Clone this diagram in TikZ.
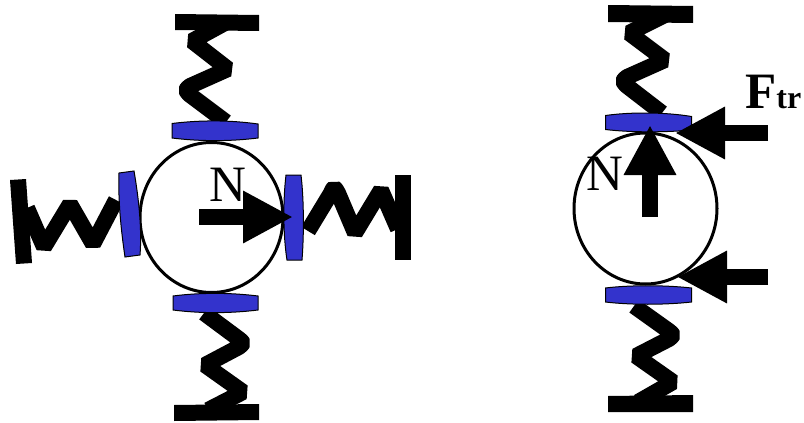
\documentclass[tikz,border=0pt]{standalone}
\usepackage{xcolor}
\usepackage{fontspec}
\setmainfont{Liberation Serif}
\usetikzlibrary{arrows.meta}
\definecolor{padblue}{RGB}{51, 51, 204}

\begin{document}
\begin{tikzpicture}[
    x=1pt,
    y=-1pt,
    spring/.style={black, line width=16pt, line join=bevel},
    wall/.style={fill=black},
    pad/.style={fill=padblue, draw=black, line width=1pt},
    roller/.style={draw=black, line width=3pt},
    force/.style={black, line width=16pt, -{Triangle[length=50pt, width=49pt]}},
    label/.style={font=\fontsize{51}{51}\selectfont, inner sep=0pt}
]
    \useasboundingbox (0,0) rectangle (804,423);

    % Coordinates
    \coordinate (c_left)  at (211.5,217.5);
    \coordinate (c_right) at (645.5,208.5);

    \coordinate (n_tail)  at (199,217);
    \coordinate (n_tip)   at (293,217);
    \coordinate (up_tail) at (650,217);
    \coordinate (up_tip)  at (650,125);
    \coordinate (f1_tail) at (768,133);
    \coordinate (f1_tip)  at (675,133);
    \coordinate (f2_tail) at (768,277);
    \coordinate (f2_tip)  at (677,277);

    % Left roller: springs
    \draw[spring] (225,23) -- (192,41) -- (228,69) -- (190,86)
        .. controls (185,90) .. (190,95) -- (226,122);
    \draw[spring] (204,313) -- (239,339) .. controls (244,343) .. (239,347)
        -- (205,365) -- (243,392) -- (208,410);
    \draw[spring] (308,231) -- (331,193) .. controls (334,186) .. (338,193)
        -- (355,233) -- (381,190) -- (398,229);
    \draw[spring] (116,200) -- (93,244) -- (70,204) -- (44,247) -- (27,208);

    % Left roller: walls
    \fill[wall] (175,14) -- (259,15) -- (259,31) -- (175,30) -- cycle;
    \fill[wall] (174,405) -- (259,404) -- (259,420) -- (174,421) -- cycle;
    \fill[wall] (395,175) rectangle (411,260);
    \fill[wall] (10,180) -- (26,179) -- (32,263) -- (16,264) -- cycle;

    % Right roller: springs
    \draw[spring] (665,15) -- (629,33) -- (665,60) -- (627,77)
        .. controls (622,81) .. (627,86) -- (662,113);
    \draw[spring] (634,306) -- (669,331) .. controls (674,335) .. (669,339)
        -- (636,356) -- (673,382) -- (638,402);

    % Right roller: walls
    \fill[wall] (608,5) -- (693,6) -- (693,23) -- (608,22) -- cycle;
    \fill[wall] (608,396) -- (693,395) -- (693,412) -- (608,412) -- cycle;

    % Rollers
    \draw[roller] (c_left) ellipse (71.5 and 75);
    \draw[roller] (c_right) ellipse (71.5 and 75.5);

    % Pads, left roller
    \draw[pad] (172,123.5) .. controls (200,120) and (230,120) .. (258,124)
        -- (258,138) .. controls (230,141.5) and (200,141.5) .. (172,138) -- cycle;
    \draw[pad] (173,296) .. controls (200,292.5) and (230,292.5) .. (258,296)
        -- (258,310) .. controls (230,313.5) and (200,313.5) .. (173,310) -- cycle;
    \draw[pad] (119,173) .. controls (118,200) and (121,230) .. (125,257)
        -- (140,255) .. controls (142,230) and (139,200) .. (134,171) -- cycle;
    \draw[pad] (286,175) .. controls (283,200) and (283,235) .. (287,260)
        -- (302,260) .. controls (304,235) and (304,200) .. (301,175) -- cycle;

    % Pads, right roller
    \draw[pad] (605.5,115.5) .. controls (630,112) and (665,112) .. (691.5,116.5)
        -- (691.5,130) .. controls (665,132.5) and (630,132.5) .. (605.5,129.5) -- cycle;
    \draw[pad] (605.5,288) .. controls (630,285) and (665,285) .. (691.5,288)
        -- (691.5,302) .. controls (665,305) and (630,305) .. (605.5,302) -- cycle;

    % Forces
    \draw[force] (n_tail) -- (n_tip);
    \draw[force] (up_tail) -- (up_tip);
    \draw[force] (f1_tail) -- (f1_tip);
    \draw[force] (f2_tail) -- (f2_tip);

    % Labels
    \node[label] (n_left) at (227.5,185) {N};
    \node[label] (n_right) at (604.5,174) {N};
    \node[label, font=\fontsize{51}{51}\selectfont\bfseries, anchor=base west] (f_tr) at (745,108)
        {F{\fontsize{32}{32}\selectfont tr}};

\end{tikzpicture}
\end{document}
